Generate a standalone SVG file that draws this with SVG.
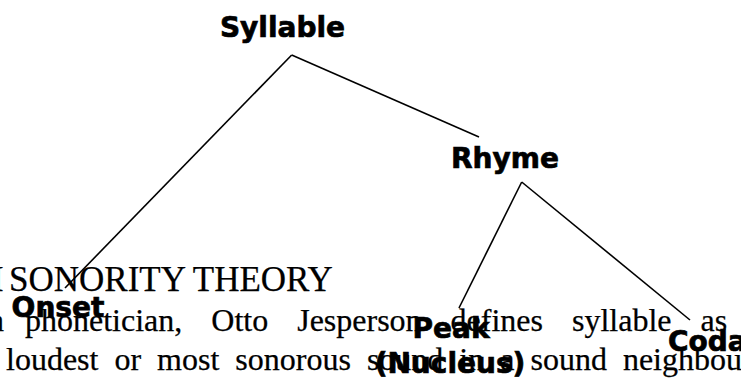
<svg xmlns="http://www.w3.org/2000/svg" width="741" height="382" viewBox="0 0 741 382">
<style>
.bg{font-family:"Liberation Serif","Times New Roman",serif;fill:#000;stroke:#000;stroke-width:0.25}
.lbl{font-family:"DejaVu Sans",Verdana,sans-serif;font-weight:bold;font-size:28px;fill:#000;stroke:#000;stroke-width:0.7;text-anchor:middle}
.edge{stroke:#000;stroke-width:1.6;fill:none}
</style>
<rect width="741" height="382" fill="#fff"/>
<g id="page-text" class="bg">
<text x="-8" y="291" font-size="35">I</text>
<text x="9" y="291" font-size="35">SONORITY THEORY</text>
<text x="-12" y="331" font-size="32">n</text>
<text x="25" y="331" font-size="32" word-spacing="21">phonetician, Otto Jesperson defines syllable as</text>
<text x="6" y="370" font-size="32" word-spacing="8">loudest or most sonorous sound in a sound neighbourhood</text>
</g>
<g id="connectors">
<line class="edge" x1="291.7" y1="55" x2="65" y2="288"/>
<line class="edge" x1="291.7" y1="55" x2="479" y2="137"/>
<line class="edge" x1="521.7" y1="182" x2="459" y2="308"/>
<line class="edge" x1="521.7" y1="182" x2="690" y2="320"/>
</g>
<g id="syllable"><text class="lbl" x="282.5" y="37">Syllable</text></g>
<g id="rhyme"><text class="lbl" x="505" y="168">Rhyme</text></g>
<g id="onset"><text class="lbl" x="58" y="317">Onset</text></g>
<g id="peak"><text class="lbl" x="451" y="338">Peak</text><text class="lbl" x="450" y="373">(Nucleus)</text></g>
<g id="coda"><text class="lbl" x="668" y="351" style="text-anchor:start">Coda</text></g>
</svg>
